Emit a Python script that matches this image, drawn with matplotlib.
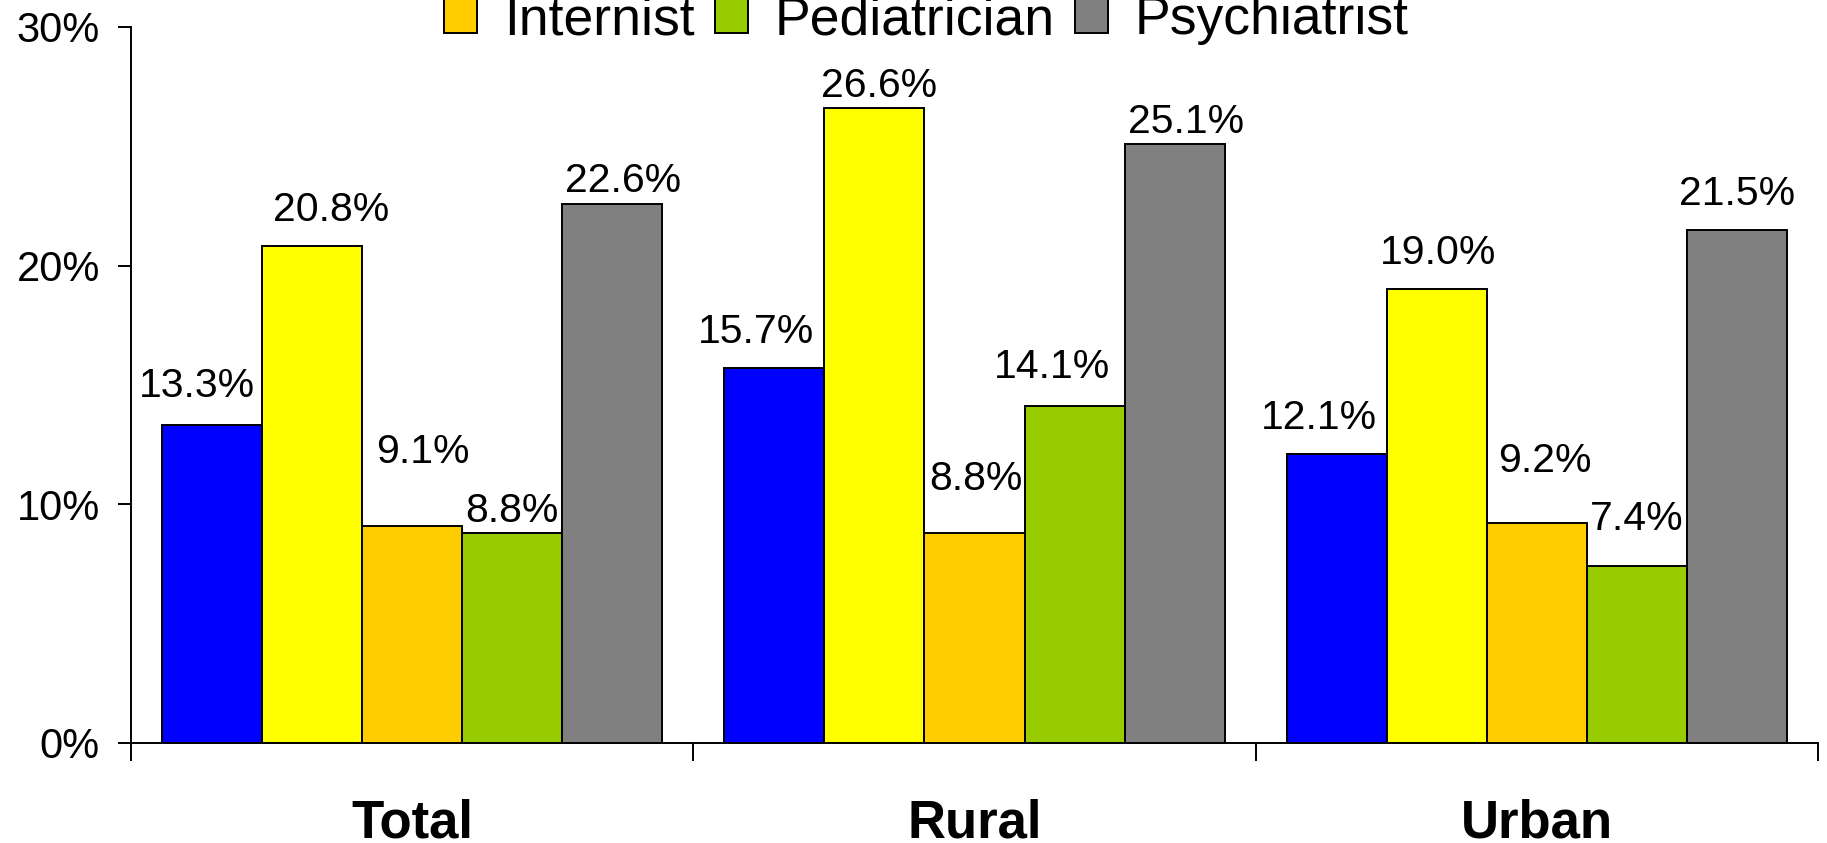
import numpy as np
import matplotlib
matplotlib.use("Agg")
import matplotlib.pyplot as plt
from matplotlib.patches import Patch

plt.rcParams['font.family'] = ['Liberation Sans', 'DejaVu Sans']

# data
groups = ['Total', 'Rural', 'Urban']
specialties = ['Family Practitioner', 'General Practitioner', 'Internist', 'Pediatrician', 'Psychiatrist']
family_prac = [13.3, 15.7, 12.1]
general_prac = [20.8, 26.6, 19.0]
internist = [9.1, 8.8, 9.2]
pediatrician = [8.8, 14.1, 7.4]
psychiatrist = [22.6, 25.1, 21.5]
series = [family_prac, general_prac, internist, pediatrician, psychiatrist]

colors = ['#0000FF', '#FFFF00', '#FFCC00', '#99CC00', '#808080']

# label offsets (points) per series, per group - labels were nudged by hand in the original
label_dx = [[-11, -13, -13], [14, 3, 1], [8, 1, 6], [0, -16, 0], [8, 8, 0]]
label_dy = [[28, 26, 26], [26, 16, 26], [53, 39, 45], [16, 28, 34], [16, 16, 26]]

fig = plt.figure(figsize=(18.27, 8.43), dpi=100)
ax = fig.add_axes([0.0717, 0.1190, 0.9951 - 0.0717, 0.968 - 0.1190])

x = np.arange(len(groups))
w = 0.178
for i, vals in enumerate(series):
    b = ax.bar(x + (i - 2) * w, vals, w, color=colors[i], edgecolor='black',
               linewidth=1.4, label=specialties[i], zorder=3)
    for j, rect in enumerate(b):
        ax.annotate(f'{vals[j]:.1f}%',
                    (rect.get_x() + rect.get_width() / 2, rect.get_height()),
                    xytext=(label_dx[i][j], label_dy[i][j]), textcoords='offset points',
                    ha='center', va='center', fontsize=29.5)

ax.set_xlim(-0.5, 2.5)
ax.set_ylim(0, 30)
ax.set_yticks([0, 10, 20, 30])
ax.set_yticklabels(['0%', '10%', '20%', '30%'])
ax.tick_params(axis='y', length=9.4, width=1.4, pad=13, labelsize=30)

ax.set_xticks([-0.5, 0.5, 1.5, 2.5])
ax.set_xticklabels([])
ax.tick_params(axis='x', which='major', length=13, width=1.4)
ax.set_xticks(x, minor=True)
ax.set_xticklabels(groups, minor=True, fontsize=38, fontweight='bold')
ax.tick_params(axis='x', which='minor', length=0, pad=40)

for s in ['top', 'right']:
    ax.spines[s].set_visible(False)
for s in ['left', 'bottom']:
    ax.spines[s].set_linewidth(1.4)

# legend: two rows, the first row sits above the canvas in the original
handles = [Patch(facecolor=c, edgecolor='black', linewidth=1.4) for c in colors]
common = dict(frameon=False, fontsize=38.5, handlelength=0.62, handleheight=0.62,
              handletextpad=0.5, columnspacing=0.38, borderpad=0, borderaxespad=0)
leg1 = fig.legend(handles[:2], specialties[:2], ncol=2, loc='center left',
                  bbox_to_anchor=(0.243, 1.05), **common)
fig.legend(handles[2:], specialties[2:], ncol=3, loc='center left',
           bbox_to_anchor=(0.243, 0.976), **common)
fig.add_artist(leg1)

fig.savefig('out.png', dpi=100)
